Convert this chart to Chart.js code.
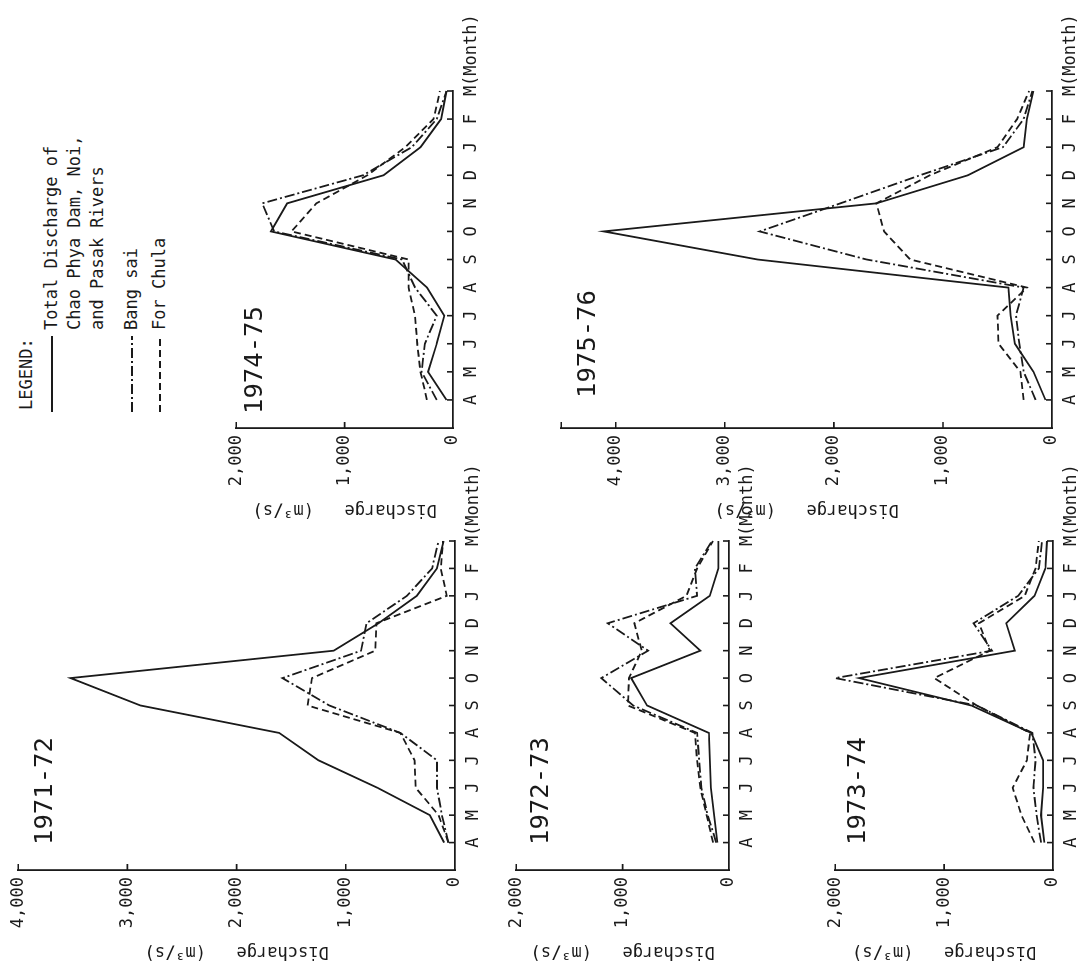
<!DOCTYPE html>
<html>
<head>
<meta charset="utf-8">
<script src="https://cdn.jsdelivr.net/npm/chart.js@4.4.0/dist/chart.umd.min.js"></script>
<style>
html, body { margin:0; padding:0; overflow:hidden; background:#fff; width:1081px; height:967px; }
/* the scanned figure lies on its side: draw it upright, then turn it */
#page { position:absolute; left:0; top:0; width:967px; height:1081px; transform-origin:0 0;
        transform:translate(0,967px) rotate(-90deg); font-family:'DejaVu Sans Mono', monospace; color:#1a1a1a; }
canvas { position:absolute; }
.title { position:absolute; font-size:25.6px; line-height:26px; white-space:pre; }
.legend { position:absolute; font-size:17px; line-height:23px; white-space:pre; }
</style>
</head>
<body>
<div id="page">
  <canvas id="c7172" width="515" height="486" style="left:1px;top:1px"></canvas>
  <canvas id="c7273" width="515" height="262" style="left:1px;top:499px"></canvas>
  <canvas id="c7374" width="515" height="267" style="left:1px;top:818px"></canvas>
  <canvas id="c7475" width="523" height="266" style="left:443px;top:219px"></canvas>
  <canvas id="c7576" width="523" height="540" style="left:443px;top:544px"></canvas>

  <div class="title" style="left:122px;top:30px">1971-72</div>
  <div class="title" style="left:122px;top:526px">1972-73</div>
  <div class="title" style="left:122px;top:843px">1973-74</div>
  <div class="title" style="left:553px;top:240px">1974-75</div>
  <div class="title" style="left:569px;top:573px">1975-76</div>

  <div class="legend" style="left:557px;top:15px">LEGEND:</div>
  <svg style="position:absolute;left:555px;top:40px" width="78" height="130">
    <line x1="0" y1="12" x2="76" y2="12" stroke="#1a1a1a" stroke-width="2"/>
    <line x1="0" y1="92" x2="76" y2="92" stroke="#1a1a1a" stroke-width="2" stroke-dasharray="10 3 2 3"/>
    <line x1="0" y1="120" x2="76" y2="120" stroke="#1a1a1a" stroke-width="2" stroke-dasharray="7 4"/>
  </svg>
  <div class="legend" style="left:637px;top:40px">Total Discharge of
Chao Phya Dam, Noi,
and Pasak Rivers</div>
  <div class="legend" style="left:637px;top:120px">Bang sai</div>
  <div class="legend" style="left:637px;top:148px">For Chula</div>
</div>

<script>
const months = ['A','M','J','J','A','S','O','N','D','J','F','M'];

// value-axis ticks (the last one of the 1975-76 axis is an unlabelled end mark)
const ticks4000 = [0, 1000, 2000, 3000, 4000];
const ticks2000 = [0, 1000, 2000];
const ticks4500 = [0, 1000, 2000, 3000, 4000, 4500];

// discharge, m3/s, April .. March
const total7172    = [100, 230, 710, 1250, 1610, 2880, 3520, 1110, 700, 350, 165, 105];
const bangsai7172  = [60, 120, 165, 165, 500, 1150, 1580, 860, 810, 440, 210, 150];
const forchula7172 = [60, 150, 360, 370, 500, 1350, 1310, 730, 720, 75, 130, 110];

const total7273    = [110, 140, 170, 180, 190, 770, 920, 270, 550, 180, 100, 100];
const bangsai7273  = [120, 200, 260, 280, 300, 900, 1200, 760, 1140, 300, 320, 160];
const forchula7273 = [150, 210, 270, 300, 320, 950, 940, 820, 890, 400, 300, 150];

const total7374    = [80, 110, 90, 90, 200, 750, 1780, 350, 430, 170, 70, 55];
const bangsai7374  = [110, 150, 180, 160, 190, 700, 2000, 560, 730, 320, 130, 100];
const forchula7374 = [170, 290, 370, 240, 210, 700, 1090, 580, 680, 260, 160, 130];

const total7475    = [60, 230, 150, 80, 240, 530, 1680, 1530, 640, 300, 110, 60];
const bangsai7475  = [150, 290, 260, 150, 350, 470, 1650, 1760, 830, 380, 150, 60];
const forchula7475 = [240, 300, 330, 350, 410, 410, 1490, 1260, 790, 440, 180, 120];

const total7576    = [60, 170, 340, 380, 400, 2700, 4110, 1610, 770, 260, 230, 170];
const bangsai7576  = [150, 260, 300, 330, 260, 1700, 2680, 1940, 1210, 450, 260, 180];
const forchula7576 = [260, 290, 490, 500, 230, 1300, 1540, 1610, 1120, 500, 320, 210];

const INK = '#1a1a1a';
Chart.defaults.font.family = "'DejaVu Sans Mono', monospace";
Chart.defaults.font.size = 17;
Chart.defaults.color = INK;

// short inward tick marks and the "(Month)" tail of the last month label
const axisMarks = {
  id: 'axisMarks',
  afterDraw(chart) {
    const {ctx, chartArea: a, scales: {x, y}} = chart;
    ctx.save();
    ctx.strokeStyle = INK;
    ctx.lineWidth = 1.6;
    ctx.beginPath();
    y.ticks.forEach(t => {
      if (t.value > 0) {
        const py = y.getPixelForValue(t.value);
        ctx.moveTo(a.left, py); ctx.lineTo(a.left + 6, py);
      }
    });
    for (let i = 1; i < x.ticks.length; i++) {
      const px = x.getPixelForValue(i);
      ctx.moveTo(px, a.bottom); ctx.lineTo(px, a.bottom - 6);
    }
    ctx.stroke();
    const last = x.getPixelForValue(x.ticks.length - 1);
    ctx.font = "17px 'DejaVu Sans Mono'";
    ctx.fillStyle = INK;
    ctx.textAlign = 'left';
    ctx.textBaseline = 'middle';
    ctx.fillText('(Month)', last + ctx.measureText('M').width / 2, x.top + 8 + 10.2);
    ctx.restore();
  }
};

function fmt(v){
  if (v % 1000) return '';
  return v === 0 ? '0' : (v / 1000) + ',000';
}

function makePanel(id, total, bangsai, forchula, valueTicks){
  const ctx = document.getElementById(id).getContext('2d');
  const line = (data, dash) => ({
    data: [null].concat(data),
    borderColor: INK,
    borderWidth: 1.8,
    borderDash: dash,
    pointRadius: 0,
    tension: 0,
    fill: false
  });
  new Chart(ctx, {
    type: 'line',
    data: {
      labels: [''].concat(months),
      datasets: [
        line(total, []),
        line(bangsai, [10, 3, 2, 3]),
        line(forchula, [7, 4])
      ]
    },
    options: {
      responsive: false,
      animation: false,
      layout: { padding: { top: 14, left: 0, right: 90, bottom: 0 } },
      plugins: { legend: { display: false }, tooltip: { enabled: false } },
      scales: {
        x: {
          type: 'category',
          grid: { display: true, drawOnChartArea: false, drawTicks: false },
          border: { display: true, color: INK, width: 1.8 },
          ticks: { autoSkip: false, maxRotation: 0, padding: 8 },
          afterFit: s => { s.height = 32; }
        },
        y: {
          min: 0,
          max: valueTicks[valueTicks.length - 1],
          grid: { display: true, drawOnChartArea: false, drawTicks: false },
          border: { display: true, color: INK, width: 1.8 },
          ticks: { autoSkip: false, padding: 7, callback: v => fmt(v) },
          afterBuildTicks: s => { s.ticks = valueTicks.map(v => ({ value: v })); },
          title: { display: true, text: 'Discharge   (m\u00b3/s)', padding: { top: 4, bottom: 0 } },
          afterFit: s => { s.width = 96; }
        }
      }
    },
    plugins: [axisMarks]
  });
}

makePanel('c7172', total7172, bangsai7172, forchula7172, ticks4000);
makePanel('c7273', total7273, bangsai7273, forchula7273, ticks2000);
makePanel('c7374', total7374, bangsai7374, forchula7374, ticks2000);
makePanel('c7475', total7475, bangsai7475, forchula7475, ticks2000);
makePanel('c7576', total7576, bangsai7576, forchula7576, ticks4500);
</script>
</body>
</html>
